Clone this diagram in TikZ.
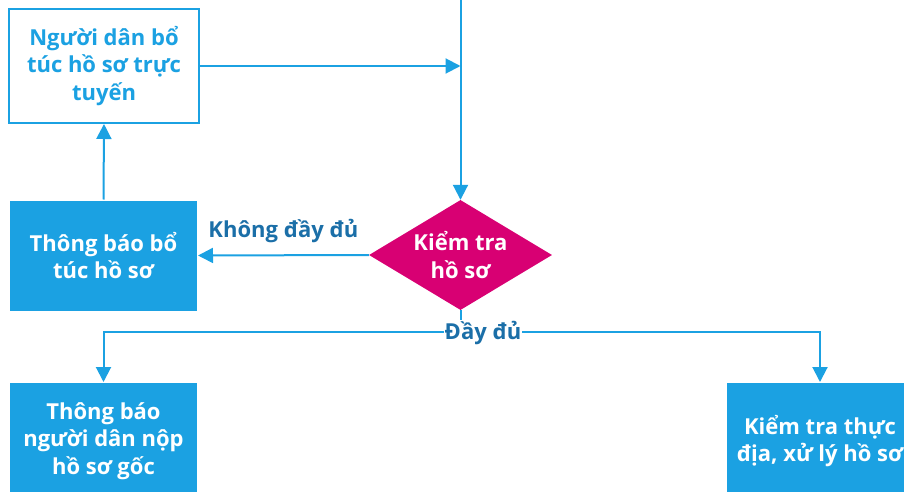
\documentclass[tikz,border=0pt]{standalone}
\usepackage{fontspec}
\setmainfont{Open Sans}
\usetikzlibrary{shapes.geometric,arrows.meta}
\definecolor{boxblue}{HTML}{1BA1E2}
\definecolor{checkpink}{HTML}{D80073}
\definecolor{labelblue}{HTML}{1B6FA8}
\tikzset{
        step box/.style = { draw=boxblue, line width=2pt, minimum width=187pt, minimum height=112pt,
                            inner sep=0pt, align=center, font=\bfseries\fontsize{22}{27.5}\selectfont },
      online box/.style = { step box, fill=white, text=boxblue },
      filled box/.style = { step box, fill=boxblue, text=white },
       check box/.style = { diamond, fill=checkpink, inner sep=0pt, minimum width=183pt, minimum height=110pt },
      check text/.style = { text=white, inner sep=0pt, align=center, font=\bfseries\fontsize{22}{27.5}\selectfont },
       flowlabel/.style = { text=labelblue, font=\bfseries\fontsize{22}{24}\selectfont, inner sep=1pt },
            flow/.style = { draw=boxblue, line width=2pt, -{Triangle[length=15pt,width=15pt]} }
}
\begin{document}
\begin{tikzpicture}[x=1pt, y=-1pt]
  \useasboundingbox (0,0) rectangle (904,492);
  \clip (0,0) rectangle (904,492);

  % boxes
  \node[online box, minimum width=190pt, minimum height=114pt] (online) at (104,66) {Người dân bổ\\túc hồ sơ trực\\tuyến};
  \node[filled box, draw=none, minimum width=187pt, minimum height=110pt] (notify) at (103.5,255.5) {Thông báo bổ\\túc hồ sơ};
  \node[check box] (check) at (460.5,255) {};
  \node[check text] (checktext) at (check.center) {Kiểm tra\\hồ sơ};
  \node[filled box, draw=none, minimum height=116pt] (original) at (103.5,441) {Thông báo\\người dân nộp\\hồ sơ gốc};
  \node[filled box, draw=none, minimum height=116pt] (field) at (820,441) {Kiểm tra thực\\địa, xử lý hồ sơ};

  % connectors
  \coordinate (top) at (460.5,-5);
  \coordinate (split) at (460.5,332);
  \draw[flow] (top) -- (check.north);
  \draw[flow] (online.east) -- (online.east -| check.north);
  \draw[flow] (notify.north) -- (online.south);
  \draw[flow] (check.west) -- (notify.east)
    node[flowlabel, midway, above=10pt] (nolabel) {Không đầy đủ};
  \draw[boxblue, line width=2pt] (check.south) -- (split);
  \draw[flow] (split) -| (original.north);
  \draw[flow] (split) -| (field.north);
  \node[flowlabel, fill=white] (yeslabel) at (483,333) {Đầy đủ};
\end{tikzpicture}
\end{document}
